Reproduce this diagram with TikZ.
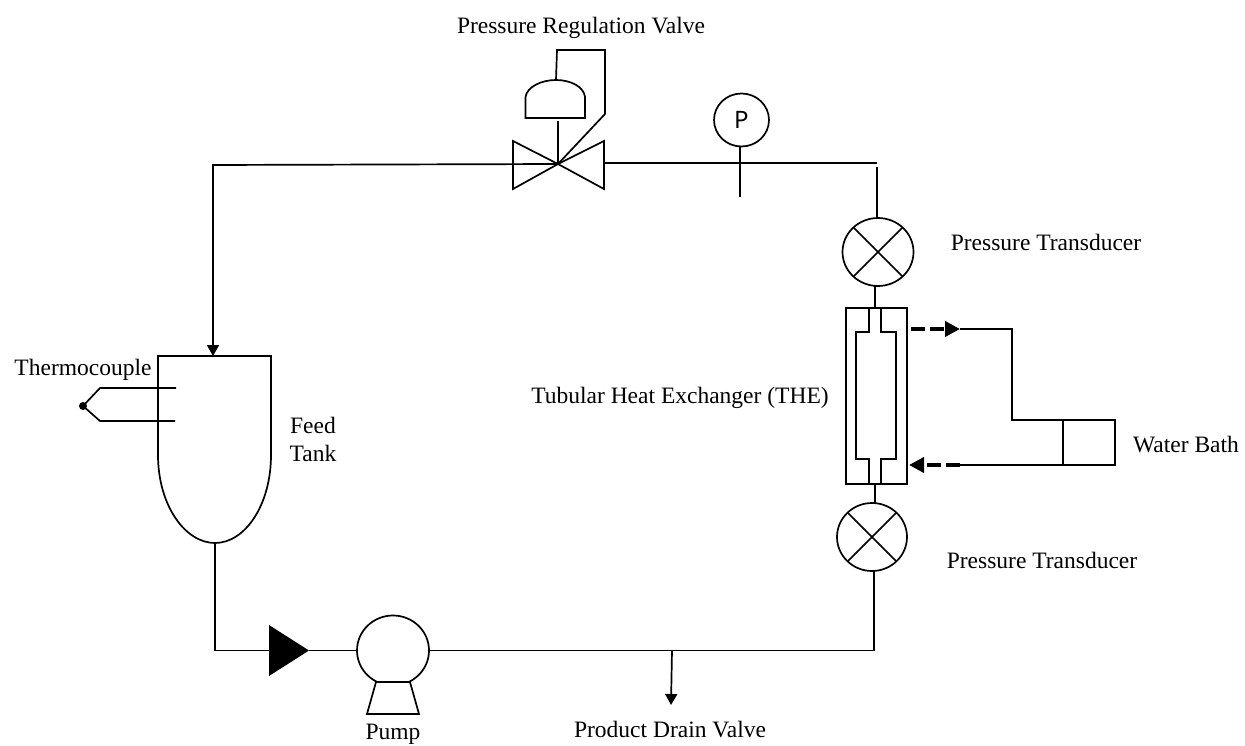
\documentclass[tikz,border=0pt]{standalone}
\usepackage{fontspec}
\setmainfont{Liberation Serif}
\newfontfamily\psans{Noto Sans}
\usetikzlibrary{arrows.meta,shapes.geometric}
\tikzset{
  pipe/.style={draw=black,line width=1.7pt,line join=miter},
  lbl/.style={font=\fontsize{23.5}{25}\selectfont,text=black,inner sep=0pt,outer sep=0pt},
  disc/.style={ellipse,draw=black,line width=1.7pt,inner sep=0pt,outer sep=0pt,fill=white},
  flowtip/.style={-{Triangle[length=11pt,width=12pt]}},
  hotflow/.style={draw=black,line width=3.8pt,dash pattern=on 14pt off 5pt,-{Triangle[length=15pt,width=15pt,fill=black]}},
}
\begin{document}
\begin{tikzpicture}[x=1pt,y=-1pt]
\useasboundingbox (0,0) rectangle (1245,746);
% named points
\coordinate (vc) at (558,164);
\coordinate (vr) at (604,163);
\coordinate (feedcorner) at (213,165);
\coordinate (tanktop) at (213,356);
\coordinate (tankbot) at (215,543);
\coordinate (pipecornerA) at (215,650.5);
\coordinate (triL) at (269,650.5);
\coordinate (triR) at (309,650.5);
\coordinate (corner2) at (877,163);
\coordinate (corner2b) at (877,167);
\coordinate (corner3) at (874,650.5);
\coordinate (draintop) at (672,650.5);
\coordinate (drainend) at (671,705);
\coordinate (gaugefoot) at (740,197);
% equipment
\node[disc,minimum width=55pt,minimum height=53pt] (gauge) at (741.5,120) {\psans\fontsize{24}{26}\selectfont P};
\node[disc,minimum width=71pt,minimum height=68pt] (ptA) at (878,252) {};
\node[disc,minimum width=70pt,minimum height=68pt] (ptB) at (872,537) {};
\node[disc,minimum width=72pt,minimum height=70pt] (pump) at (393,650.5) {};
\draw[pipe] (ptA.45)--(ptA.225) (ptA.135)--(ptA.315);
\draw[pipe] (ptB.45)--(ptB.225) (ptB.135)--(ptB.315);
% pipes
\draw[pipe,flowtip] (vc) -- (feedcorner) -- (tanktop);
\draw[pipe] (vr) -- (corner2);
\draw[pipe] (corner2b) -- (ptA.north-|corner2b);
\draw[pipe] (gauge.south-|gaugefoot) -- (gaugefoot);
\draw[pipe] (tankbot) -- (pipecornerA) -- (triL);
\draw[pipe] (triR) -- (pump.west);
\draw[pipe] (pump.east) -- (corner3) -- (ptB.south-|corner3);
\draw[pipe,flowtip] (draintop) -- (drainend);
% valve
\draw[pipe] (vc) -- (513,141) -- (513,189) -- cycle;
\draw[pipe] (vc) -- (604,141) -- (604,189) -- cycle;
\draw[pipe] (558,121) -- (vc);
\draw[pipe] (vc) -- (605,114) -- (605,50) -- (557,50) -- (556,80);
\draw[pipe] (525.5,118) -- (525.5,97) .. controls (527,87) and (541,80) .. (556,80) .. controls (571,80) and (584,87) .. (585,97) -- (585,118) -- cycle;
% pump base and inlet triangle
\draw[pipe,fill=white] (376,682) -- (410,682) -- (419,714) -- (367,714) -- cycle;
\path[fill=black] (269,625) -- (309,650.5) -- (269,676) -- cycle;
% tank
\draw[pipe] (158,356) -- (271,356) -- (271,455)
  .. controls (271,505) and (245,543) .. (215,543)
  .. controls (185,543) and (158,505) .. (158,455) -- cycle;
% thermocouple
\fill (83,406) circle (4pt);
\draw[pipe] (83,406) -- (100,388) -- (176,388);
\draw[pipe] (83,406) -- (100,421) -- (175,421);
% heat exchanger
\draw[pipe] (846,308) rectangle (907,484);
\draw[pipe] (869,308) -- (869,332) -- (856,332) -- (856,459) -- (869,459) -- (869,484);
\draw[pipe] (881,308) -- (881,332) -- (896,332) -- (896,459) -- (881,459) -- (881,484);
\draw[pipe] (875,286) -- (875,308);
\draw[pipe] (875,484) -- (875,504);
% water bath
\coordinate (hotend) at (960,329);
\coordinate (coldend) at (960,465);
\draw[pipe] (hotend) -- (1012,329) -- (1012,420) -- (1115,420) -- (1115,465) -- (coldend);
\draw[pipe] (1063,420) -- (1063,465);
\draw[hotflow] (911,329) -- (hotend);
\draw[hotflow] (coldend) -- (909,465);
% labels
\node[lbl] (t1) at (581,27.5) {Pressure Regulation Valve};
\node[lbl] (t2) at (1046,242) {Pressure Transducer};
\node[lbl] (t3) at (1042,560) {Pressure Transducer};
\node[lbl] (t4) at (680,397.5) {Tubular Heat Exchanger (THE)};
\node[lbl] (t5) at (1186,444.5) {Water Bath};
\node[lbl,align=center] (t6) at (313,439) {Feed\\[3pt]Tank};
\node[lbl] (t7) at (83,370) {Thermocouple};
\node[lbl] (t8) at (393,734) {Pump};
\node[lbl] (t9) at (670,730) {Product Drain Valve};
\end{tikzpicture}
\end{document}
